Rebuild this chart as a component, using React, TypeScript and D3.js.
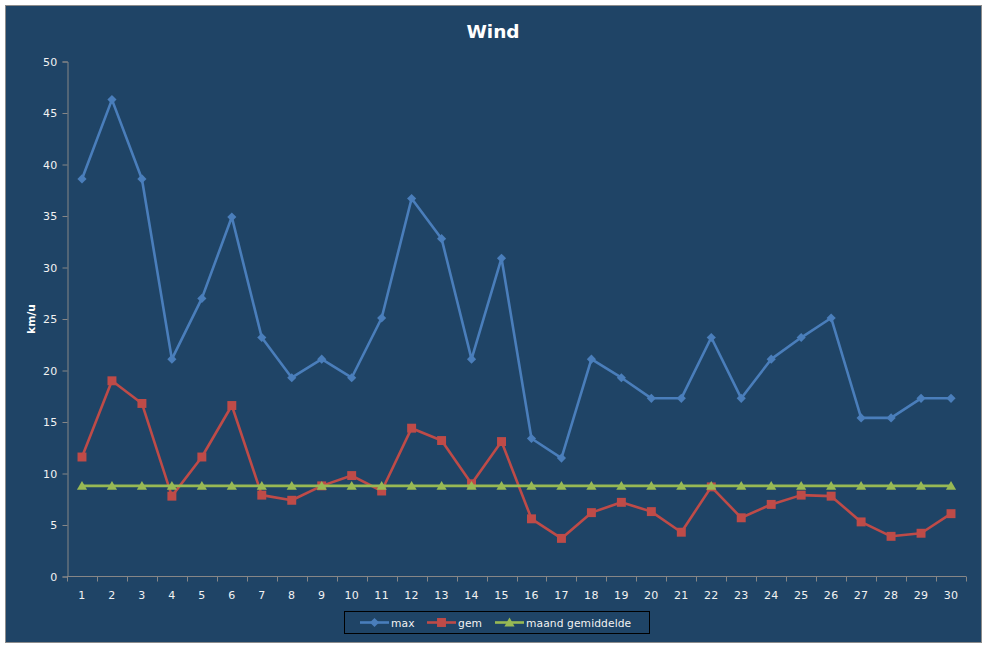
import React, { useEffect, useRef } from 'react';
import * as d3 from 'd3';

// days of the month
const days: string[] = Array.from({ length: 30 }, (_, i) => String(i + 1));

// wind speeds (km/u)
const maxValues: number[] = [
  38.6, 46.3, 38.6, 21.1, 27.0, 34.9, 23.2, 19.3, 21.1, 19.3,
  25.1, 36.7, 32.8, 21.1, 30.9, 13.4, 11.5, 21.1, 19.3, 17.3,
  17.3, 23.2, 17.3, 21.1, 23.2, 25.1, 15.4, 15.4, 17.3, 17.3,
];
const gemValues: number[] = [
  11.6, 19.0, 16.8, 7.8, 11.6, 16.6, 7.9, 7.4, 8.8, 9.8,
  8.3, 14.4, 13.2, 9.0, 13.1, 5.6, 3.7, 6.2, 7.2, 6.3,
  4.3, 8.7, 5.7, 7.0, 7.9, 7.8, 5.3, 3.9, 4.2, 6.1,
];
const monthAvg: number[] = days.map(() => 8.8);
const yTicks: number[] = [0, 5, 10, 15, 20, 25, 30, 35, 40, 45, 50];

const seriesNames = ['max', 'gem', 'maand gemiddelde'];
const seriesColors = ['#4A7EBB', '#BE4B48', '#98B954'];

const W = 987;
const H = 648;
const FONT = '"DejaVu Sans", Verdana, sans-serif';

const App = () => {
  const ref = useRef<SVGSVGElement | null>(null);

  useEffect(() => {
    const svg = d3.select(ref.current);
    svg.selectAll('*').remove();

    const left = 67;
    const right = 966;
    const top = 61.5;
    const bottom = 576.5;

    // chart background
    svg.append('rect')
      .attr('x', 5.5).attr('y', 5.5)
      .attr('width', 976).attr('height', 637)
      .attr('fill', '#1F4466')
      .attr('stroke', '#8C8C8C')
      .attr('stroke-width', 1);

    svg.append('text')
      .attr('x', 493).attr('y', 38)
      .attr('text-anchor', 'middle')
      .attr('font-family', FONT)
      .attr('font-size', 18.5)
      .attr('font-weight', 'bold')
      .attr('fill', '#fff')
      .text('Wind');

    const x = d3.scaleBand().domain(days).range([left, right]).padding(0);
    const y = d3.scaleLinear().domain([0, 50]).range([bottom, top]);
    const cx = (d: string) => (x(d) as number) + x.bandwidth() / 2;

    // y axis
    const yAxis = svg.append('g').attr('transform', `translate(${left + 0.5},0)`)
      .call(d3.axisLeft(y).tickValues(yTicks).tickSize(5).tickPadding(5));
    yAxis.select('.domain').attr('stroke', '#868686');
    yAxis.selectAll('.tick line').attr('stroke', '#868686');
    yAxis.selectAll('.tick text')
      .attr('fill', '#F2F2F2')
      .attr('font-family', FONT)
      .attr('font-size', 11)
      .attr('letter-spacing', 0.3);

    // x axis
    const xAxis = svg.append('g').attr('transform', `translate(0,${bottom})`);
    xAxis.append('line')
      .attr('x1', left).attr('x2', right)
      .attr('y1', 0).attr('y2', 0)
      .attr('stroke', '#868686');
    const bounds = [...days.map(d => x(d) as number), right];
    xAxis.selectAll('line.tk').data(bounds).enter().append('line')
      .attr('class', 'tk')
      .attr('x1', d => Math.round(d) + 0.5).attr('x2', d => Math.round(d) + 0.5)
      .attr('y1', 0).attr('y2', 5)
      .attr('stroke', '#868686');
    xAxis.selectAll('text').data(days).enter().append('text')
      .attr('x', d => cx(d))
      .attr('y', 22)
      .attr('text-anchor', 'middle')
      .attr('font-family', FONT)
      .attr('font-size', 11)
      .attr('letter-spacing', 0.3)
      .attr('fill', '#F2F2F2')
      .text(d => d);

    // y axis title
    svg.append('text')
      .attr('transform', `translate(35,${(top + bottom) / 2}) rotate(-90)`)
      .attr('text-anchor', 'middle')
      .attr('font-family', FONT)
      .attr('font-size', 10.7)
      .attr('font-weight', 'bold')
      .attr('fill', '#fff')
      .text('km/u');

    const diamond = d3.symbol().type(d3.symbolSquare).size(42);
    const square = d3.symbol().type(d3.symbolSquare).size(80);
    const triangle = d3.symbol().type(d3.symbolTriangle).size(45);
    const markers = [diamond, square, triangle];
    const rot = ['rotate(45)', '', ''];

    const line = d3.line<number>()
      .x((_, i) => cx(days[i]))
      .y(v => y(v));

    const allSeries = [maxValues, gemValues, monthAvg];
    allSeries.forEach((vals, si) => {
      const g = svg.append('g');
      g.append('path')
        .attr('d', line(vals) as string)
        .attr('fill', 'none')
        .attr('stroke', seriesColors[si])
        .attr('stroke-width', 2.6)
        .attr('stroke-linejoin', 'round');
      g.selectAll('path.m').data(vals).enter().append('path')
        .attr('class', 'm')
        .attr('transform', (v, i) => `translate(${cx(days[i])},${y(v) + (si === 2 ? 1 : 0)}) ${rot[si]}`)
        .attr('d', markers[si]() as string)
        .attr('fill', seriesColors[si]);
    });

    // legend
    const legend = svg.append('g');
    legend.append('rect')
      .attr('x', 344.5).attr('y', 611.5)
      .attr('width', 305).attr('height', 22)
      .attr('fill', 'none')
      .attr('stroke', '#000')
      .attr('stroke-width', 1);
    const legendX = [360, 427, 495];
    seriesNames.forEach((name, si) => {
      const lx = legendX[si];
      legend.append('line')
        .attr('x1', lx).attr('x2', lx + 29)
        .attr('y1', 622.5).attr('y2', 622.5)
        .attr('stroke', seriesColors[si])
        .attr('stroke-width', 2.6);
      legend.append('path')
        .attr('transform', `translate(${lx + 14.5},${622.5 + (si === 2 ? 1 : 0)}) ${rot[si]}`)
        .attr('d', markers[si]() as string)
        .attr('fill', seriesColors[si]);
      legend.append('text')
        .attr('x', lx + 31).attr('y', 626.5)
        .attr('font-family', FONT)
        .attr('font-size', 10.7)
        .attr('fill', '#F2F2F2')
        .attr('letter-spacing', 0.1)
        .text(name);
    });
  }, []);

  return (
    <svg
      ref={ref}
      width={W}
      height={H}
      style={{ position: 'absolute', left: 0, top: 0, background: '#fff' }}
    />
  );
};

export default App;
